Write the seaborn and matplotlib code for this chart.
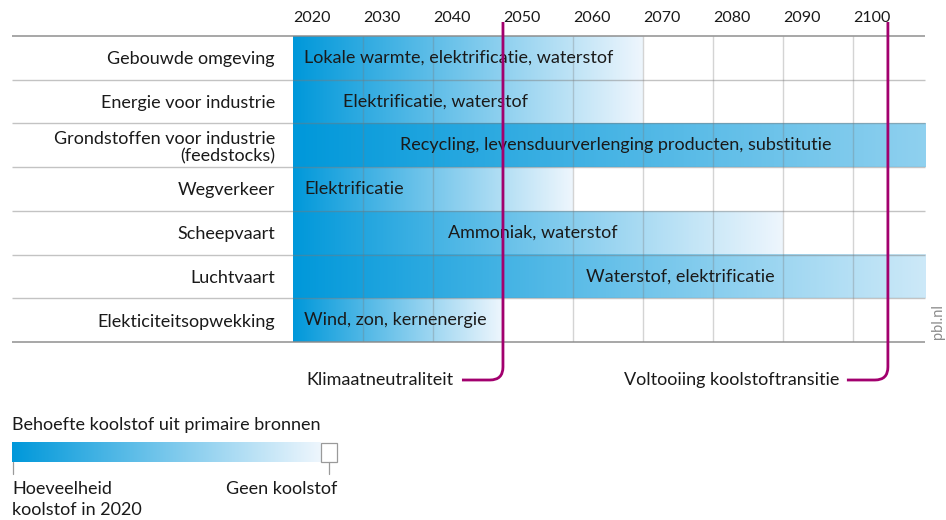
import numpy as np
import pandas as pd
import matplotlib
matplotlib.use("Agg")
import matplotlib.pyplot as plt
import seaborn as sns
from matplotlib.colors import LinearSegmentedColormap
from matplotlib.path import Path
from matplotlib.patches import PathPatch, Rectangle
from matplotlib.lines import Line2D
import matplotlib.transforms as mtransforms

# --- data -------------------------------------------------------------
sectors = [
    "Gebouwde omgeving",
    "Energie voor industrie",
    "Grondstoffen voor industrie\n(feedstocks)",
    "Wegverkeer",
    "Scheepvaart",
    "Luchtvaart",
    "Elekticiteitsopwekking",
]
start_year = 2020
# year in which the carbon demand of each sector has faded out
fade_end_year = [2070, 2070, 2170, 2060, 2090, 2125, 2050]
options = [
    "Lokale warmte, elektrificatie, waterstof",
    "Elektrificatie, waterstof",
    "Recycling, levensduurverlenging producten, substitutie",
    "Elektrificatie",
    "Ammoniak, waterstof",
    "Waterstof, elektrificatie",
    "Wind, zon, kernenergie",
]
decades = [2020, 2030, 2040, 2050, 2060, 2070, 2080, 2090, 2100]
axis_end_year = 2110.3
milestone_years = [2050, 2105]
milestone_labels = ["Klimaatneutraliteit", "Voltooiing koolstoftransitie"]

legend_title = "Behoefte koolstof uit primaire bronnen"
legend_low = ["Hoeveelheid", "koolstof in 2020"]
legend_high = "Geen koolstof"

# --- layout / style ---------------------------------------------------
W, H = 946, 520
BLUE_DARK = "#0098da"
BLUE_LIGHT = "#eef6fd"
MAGENTA = "#a2006e"
TEXT = "#1a1a1a"
FS = 13

# label anchors (years after start): (x, alignment)
label_anchor = [(1.6, "left"), (20.4, "center"), (46.1, "center"), (1.6, "left"),
                (34.2, "center"), (55.4, "center"), (1.6, "left")]

sns.set_theme(style="white")
plt.rcParams["font.family"] = ["Lato", "DejaVu Sans"]
plt.rcParams["text.color"] = TEXT

fade = LinearSegmentedColormap.from_list("fade", [BLUE_DARK, BLUE_LIGHT])

fig = plt.figure(figsize=(W / 100, H / 100), dpi=100)
ax = fig.add_axes([293 / W, (H - 342) / H, 632 / W, 306 / H])

df = pd.DataFrame({
    "sector": sectors,
    "span": [e - start_year for e in fade_end_year],
})
sns.barplot(data=df, x="span", y="sector", orient="h", width=1.0,
            color=BLUE_DARK, linewidth=0, ax=ax)

# gradient fill over each bar (image spans exactly the bar, clipped by the axes)
grad = np.linspace(0, 1, 512).reshape(1, -1)
for patch in list(ax.patches):
    x0, y0 = patch.get_x(), patch.get_y()
    w, h = patch.get_width(), patch.get_height()
    ax.imshow(grad, cmap=fade, aspect="auto", interpolation="bilinear",
              extent=(x0, x0 + w, y0 + h, y0), zorder=1)
    patch.set_facecolor("none")

x_max = axis_end_year - start_year
ax.set_xlim(0, x_max)
ax.set_ylim(len(sectors) - 0.5, -0.5)

# grid on top of the bars
ax.vlines([d - start_year for d in decades[1:]], -0.5, len(sectors) - 0.5,
          color="#7a7a7a", alpha=0.32, lw=1.0, zorder=3)
px_year = 632 / x_max
left_ext = -(293 - 12) / px_year
row_edges = np.arange(-0.5, len(sectors) + 0.5, 1.0)
for i, yv in enumerate(row_edges):
    outer = i in (0, len(row_edges) - 1)
    ax.hlines(yv, left_ext, x_max, color="#8a8a8a" if outer else "#7a7a7a",
              alpha=0.75 if outer else 0.45, lw=1.4 if outer else 1.0,
              zorder=3, clip_on=False)

for spine in ax.spines.values():
    spine.set_visible(False)

ax.xaxis.tick_top()
ax.set_xticks([d - start_year for d in decades])
ax.set_xticklabels([str(d) for d in decades], ha="left", fontsize=11.5, color=TEXT)
ax.tick_params(axis="x", length=0, pad=8)
ax.set_yticks(range(len(sectors)))
ax.set_yticklabels(sectors, fontsize=FS, color=TEXT, ha="right",
                   multialignment="right", linespacing=1.12)
ax.tick_params(axis="y", length=0, pad=13)
ax.set_xlabel("")
ax.set_ylabel("")

for i, (txt, (xa, al)) in enumerate(zip(options, label_anchor)):
    ax.text(xa, i, txt, ha=al, va="center", fontsize=FS, color=TEXT, zorder=4)

# milestone hooks
blend = mtransforms.blended_transform_factory(ax.transData, ax.transAxes)
y_top = (342 - 22) / 306
y_h = (342 - 380) / 306
r_x = 13 / px_year
r_y = 13 / 306
hook_len = 41 / px_year
for yr, lab in zip(milestone_years, milestone_labels):
    xm = yr - start_year
    verts = [(xm, y_top), (xm, y_h + r_y), (xm, y_h), (xm - r_x, y_h),
             (xm - hook_len, y_h)]
    codes = [Path.MOVETO, Path.LINETO, Path.CURVE3, Path.CURVE3, Path.LINETO]
    ax.add_patch(PathPatch(Path(verts, codes), transform=blend, fill=False,
                           edgecolor=MAGENTA, lw=2.0, zorder=5, clip_on=False,
                           capstyle="butt", joinstyle="round"))
    ax.text(xm - hook_len - 8 / px_year, y_h, lab, transform=blend,
            ha="right", va="center", fontsize=FS, color=TEXT)

fig.text(938 / W, (H - 322) / H, "pbl.nl", rotation=90, ha="center",
         va="center", fontsize=10.5, color="#8c8c8c")

# colour legend
lax = fig.add_axes([12 / W, (H - 462) / H, 309 / W, 20 / H])
lax.imshow(grad, cmap=fade, aspect="auto", interpolation="bilinear",
           extent=(0, 1, 0, 1))
lax.set_xlim(0, 1)
lax.set_ylim(0, 1)
lax.set_axis_off()
fig.add_artist(Rectangle((321 / W, (H - 461.5) / H), 16 / W, 19 / H,
                         transform=fig.transFigure, facecolor="white",
                         edgecolor="#9a9a9a", lw=0.9))
for xp in (12.5, 329):
    fig.add_artist(Line2D([xp / W, xp / W], [(H - 462) / H, (H - 474) / H],
                          transform=fig.transFigure, color="#9a9a9a", lw=0.9))
fig.text(12 / W, (H - 425) / H, legend_title, ha="left", va="center",
         fontsize=FS, color=TEXT)
for line, py in zip(legend_low, (489, 510)):
    fig.text(12 / W, (H - py) / H, line, ha="left", va="center",
             fontsize=FS, color=TEXT)
fig.text(337 / W, (H - 489) / H, legend_high, ha="right", va="center",
         fontsize=FS, color=TEXT)

fig.savefig("out.png", dpi=100, facecolor="white")
